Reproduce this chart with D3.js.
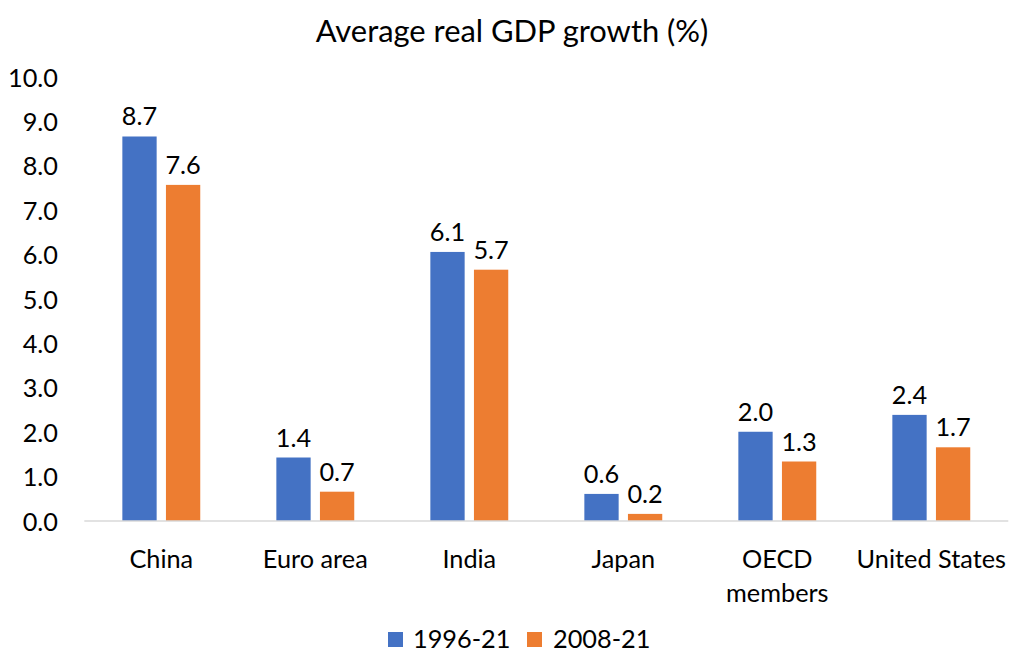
<!DOCTYPE html>
<html>
<head>
<meta charset="utf-8">
<script src="https://cdn.jsdelivr.net/npm/d3@7"></script>
<style>
  html, body { margin: 0; padding: 0; background: #fff; }
  svg { display: block; font-family: Lato, "Open Sans", sans-serif; }
</style>
</head>
<body>
<svg id="chart" width="1024" height="668"></svg>
<script>
const categories = [["China"], ["Euro area"], ["India"], ["Japan"], ["OECD", "members"], ["United States"]];
const seriesNames = ["1996-21", "2008-21"];
const series1996 = [8.66, 1.43, 6.06, 0.61, 2.01, 2.39];
const series2008 = [7.57, 0.66, 5.66, 0.16, 1.34, 1.66];
const yTicks = [0, 1, 2, 3, 4, 5, 6, 7, 8, 9, 10];
const colors = ["#4472C4", "#ED7D31"];

const svg = d3.select("#chart");
const plot = { left: 84.3, right: 1008.3, top: 77, bottom: 521 };
const fontSize = 25.3;

const catKeys = categories.map(c => c.join(" "));
const x = d3.scaleBand().domain(catKeys).range([plot.left, plot.right]).paddingInner(0).paddingOuter(0);
const bw = 34.3, gap = 9.3;
const y = d3.scaleLinear().domain([0, 10]).range([plot.bottom, plot.top]);

// title
svg.append("text")
  .attr("x", 512).attr("y", 42.3)
  .attr("text-anchor", "middle")
  .attr("font-size", 30.9).attr("fill", "#000")
  .text("Average real GDP growth (%)");

// y axis
const yAxis = d3.axisLeft(y).tickValues(yTicks).tickFormat(d3.format(".1f")).tickSize(0).tickPadding(0);
const gy = svg.append("g").attr("transform", `translate(58,0)`).call(yAxis);
gy.select(".domain").remove();
gy.selectAll("text").attr("font-size", fontSize).attr("fill", "#000").attr("font-family", "Lato, sans-serif").attr("dy", "0.36em");

// bars
const data = catKeys.map((k, i) => ({ k, vals: [series1996[i], series2008[i]] }));
const groups = svg.append("g").selectAll("g").data(data).join("g")
  .attr("transform", d => `translate(${x(d.k) + x.bandwidth() / 2},0)`);

groups.selectAll("rect").data(d => d.vals.map((v, j) => ({ v, j }))).join("rect")
  .attr("x", d => d.j === 0 ? -(gap / 2 + bw) : gap / 2)
  .attr("width", bw)
  .attr("y", d => y(d.v))
  .attr("height", d => y(0) - y(d.v))
  .attr("fill", d => colors[d.j]);

groups.selectAll("text.val").data(d => d.vals.map((v, j) => ({ v, j }))).join("text")
  .attr("class", "val")
  .attr("x", d => d.j === 0 ? -(gap / 2 + bw / 2) : gap / 2 + bw / 2)
  .attr("y", d => y(d.v) - 21)
  .attr("text-anchor", "middle").attr("dominant-baseline", "central")
  .attr("font-size", fontSize).attr("fill", "#000")
  .text(d => d3.format(".1f")(d.v));

// baseline
svg.append("line")
  .attr("x1", plot.left).attr("x2", plot.right)
  .attr("y1", y(0)).attr("y2", y(0))
  .attr("stroke", "#D9D9D9").attr("stroke-width", 1.5);

// category labels
const gx = svg.append("g");
categories.forEach((lines, i) => {
  const cx = x(catKeys[i]) + x.bandwidth() / 2;
  const t = gx.append("text")
    .attr("x", cx)
    .attr("text-anchor", "middle")
    .attr("font-size", fontSize).attr("fill", "#000");
  lines.forEach((ln, li) => {
    t.append("tspan").attr("x", cx)
      .attr("y", 558 + li * 34).attr("dominant-baseline", "central").text(ln);
  });
});

// legend
const legend = svg.append("g");
const legendItems = [{ name: seriesNames[0], sx: 388, tx: 413 }, { name: seriesNames[1], sx: 527, tx: 553 }];
legendItems.forEach((it, i) => {
  legend.append("rect").attr("x", it.sx).attr("y", 632).attr("width", 15).attr("height", 15).attr("fill", colors[i]);
  legend.append("text").attr("x", it.tx).attr("y", 638)
    .attr("dominant-baseline", "central").attr("font-size", fontSize).attr("fill", "#000").text(it.name);
});
</script>
</body>
</html>
